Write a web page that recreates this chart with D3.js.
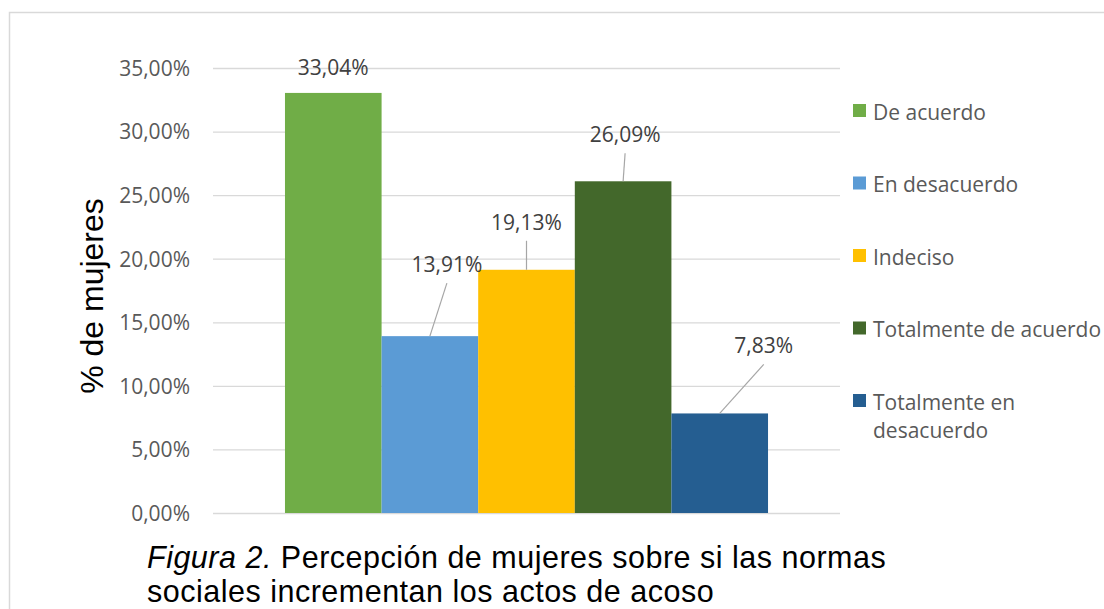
<!DOCTYPE html>
<html>
<head>
<meta charset="utf-8">
<script src="https://cdn.jsdelivr.net/npm/d3@7"></script>
<style>
  html, body { margin: 0; padding: 0; background: #fff; }
  svg { display: block; }
</style>
</head>
<body>
<svg id="chart" width="1104" height="609"></svg>
<script>
// ---- data ----
const categories = ["Percepción"];
const series = ["De acuerdo", "En desacuerdo", "Indeciso", "Totalmente de acuerdo", "Totalmente en desacuerdo"];
const values = [0.3304, 0.1391, 0.1913, 0.2609, 0.0783];
const colors = ["#70AD47", "#5B9BD5", "#FFC000", "#43682B", "#255E91"];
const yTicks = [0, 0.05, 0.10, 0.15, 0.20, 0.25, 0.30, 0.35];
const yTitle = "% de mujeres";
const captionItalic = "Figura 2.";
const captionLine1 = " Percepción de mujeres sobre si las normas";
const captionLine2 = "sociales incrementan los actos de acoso";

// ---- layout (label placement offsets relative to bar top centre) ----
const labelOffsets = [[0, -18], [17, -64], [0, -40], [2, -39], [44, -60]];

const svg = d3.select("#chart");
const W = 1104, H = 609;
const plot = { left: 213, right: 840, top: 68, bottom: 513 };
const fmt = v => d3.format(".2f")(v * 100).replace(".", ",") + "%";
const labelFont = "'Open Sans', 'DejaVu Sans', sans-serif";
const capFont = "'Liberation Sans', Arial, sans-serif";

svg.append("rect").attr("width", W).attr("height", H).attr("fill", "#fff");
// outer border
svg.append("rect").attr("x", 9.5).attr("y", 12.5).attr("width", W + 20).attr("height", H + 20)
  .attr("fill", "none").attr("stroke", "#d9d9d9").attr("stroke-width", 1.5);

const y = d3.scaleLinear().domain([0, 0.35]).range([plot.bottom, plot.top]);
const x0 = d3.scaleBand().domain(categories).range([plot.left, plot.right])
  .paddingInner(0).paddingOuter(0.149);
const x1 = d3.scaleBand().domain(series).range([0, x0.bandwidth()]).padding(0);

// gridlines + tick labels via axis
const yAxis = d3.axisLeft(y).tickValues(yTicks).tickSize(-(plot.right - plot.left)).tickFormat(fmt).tickPadding(23);
const ga = svg.append("g").attr("transform", `translate(${plot.left},0)`).call(yAxis);
ga.select(".domain").remove();
ga.selectAll(".tick line").attr("stroke", "#d9d9d9").attr("stroke-width", 1.3);
ga.selectAll(".tick text").attr("fill", "#595959").style("font-family", labelFont)
  .style("font-size", "21px").attr("dy", "0.35em");

// bars
const cat = categories[0];
const gb = svg.append("g");
gb.selectAll("rect").data(series).join("rect")
  .attr("x", d => x0(cat) + x1(d))
  .attr("width", x1.bandwidth())
  .attr("y", (d, i) => y(values[i]))
  .attr("height", (d, i) => y(0) - y(values[i]))
  .attr("fill", (d, i) => colors[i]);

// data labels with leader lines
const gl = svg.append("g");
series.forEach((s, i) => {
  const cx = x0(cat) + x1(s) + x1.bandwidth() / 2;
  const top = y(values[i]);
  const [dx, dy] = labelOffsets[i];
  const lx = cx + dx, ly = top + dy;
  if (dy < -25) {
    gl.append("line").attr("x1", lx).attr("y1", ly + 11).attr("x2", cx).attr("y2", top)
      .attr("stroke", "#a6a6a6").attr("stroke-width", 1.2);
  }
  gl.append("text").attr("x", lx).attr("y", ly).attr("text-anchor", "middle")
    .attr("fill", "#404040").style("font-family", labelFont).style("font-size", "21px")
    .text(fmt(values[i]));
});

// legend
const legX = 853, legY0 = 112, legStep = 72.5, maxW = 235;
const gLeg = svg.append("g");
series.forEach((s, i) => {
  const cy = legY0 + i * legStep;
  gLeg.append("rect").attr("x", legX).attr("y", cy - 8).attr("width", 13).attr("height", 13).attr("fill", colors[i]);
  const t = gLeg.append("text").attr("x", legX + 20).attr("y", cy + 7.5)
    .attr("fill", "#595959").style("font-family", labelFont).style("font-size", "21px");
  // word wrap
  const words = s.split(" ");
  let line = [], tsp = t.append("tspan").attr("x", legX + 20).attr("dy", 0);
  words.forEach(w => {
    line.push(w);
    tsp.text(line.join(" "));
    if (tsp.node().getComputedTextLength() > maxW && line.length > 1) {
      line.pop();
      tsp.text(line.join(" "));
      line = [w];
      tsp = t.append("tspan").attr("x", legX + 20).attr("dy", 28).text(w);
    }
  });
});

// y axis title
svg.append("text").attr("transform", "translate(103,296) rotate(-90)")
  .attr("text-anchor", "middle").attr("fill", "#000")
  .style("font-family", capFont).style("font-size", "32px")
  .text(yTitle);

// caption
const cap = svg.append("text").attr("x", 147).attr("y", 567.5).attr("fill", "#000")
  .style("font-family", capFont).style("font-size", "30.5px").style("letter-spacing", "0.5px");
cap.append("tspan").style("font-style", "italic").text(captionItalic);
cap.append("tspan").text(captionLine1);
svg.append("text").attr("x", 147).attr("y", 602).attr("fill", "#000")
  .style("font-family", capFont).style("font-size", "30.5px").style("letter-spacing", "0.5px")
  .text(captionLine2);
</script>
</body>
</html>
